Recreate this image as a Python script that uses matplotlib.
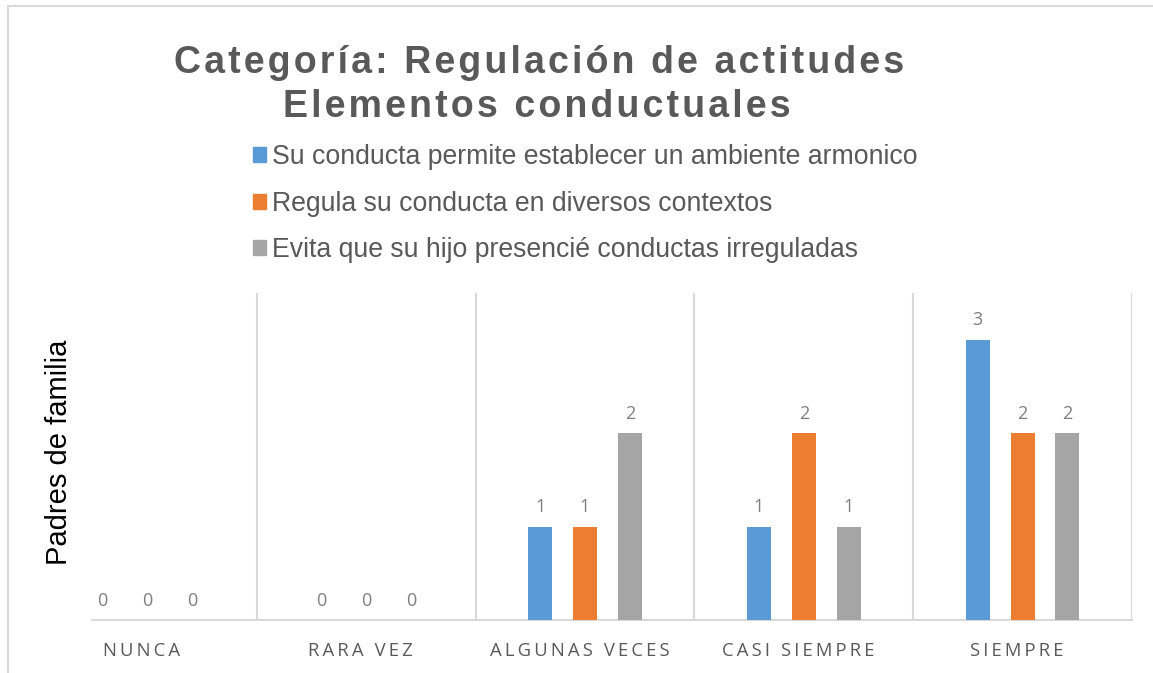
import numpy as np
import matplotlib
matplotlib.use("Agg")
import matplotlib.pyplot as plt
from matplotlib.lines import Line2D
from matplotlib.transforms import ScaledTranslation

categories = ["NUNCA", "RARA VEZ", "ALGUNAS VECES", "CASI SIEMPRE", "SIEMPRE"]
series_names = [
    "Su conducta permite establecer un ambiente armonico",
    "Regula su conducta en diversos contextos",
    "Evita que su hijo presencié conductas irreguladas",
]
ambiente = [0, 0, 1, 1, 3]
contextos = [0, 0, 1, 2, 2]
evita = [0, 0, 2, 1, 2]
colors = ["#5B9BD5", "#ED7D31", "#A5A5A5"]


def spaced(s, sep="\u2009"):
    return sep.join(s)


def main():
    fig = plt.figure(figsize=(11.53, 6.73), dpi=100)
    ax = fig.add_axes([38 / 1153, 1 - 620 / 673, (1132 - 38) / 1153, (620 - 293) / 673])

    x = np.arange(len(categories))
    width = 0.11
    offset = 0.205
    series = [ambiente, contextos, evita]
    for i, vals in enumerate(series):
        ax.bar(x + (i - 1) * offset, vals, width, color=colors[i], label=series_names[i], zorder=3)
        for xi, v in zip(x + (i - 1) * offset, vals):
            ax.annotate(str(v), (xi, v), xytext=(0, 14), textcoords="offset points",
                        ha="center", va="center", fontsize=13, color="#7f7f7f",
                        family="Open Sans")

    ax.set_xlim(-0.5, 4.5)
    ax.set_ylim(0, 3.5)
    for gx in np.arange(0.5, 5, 1):
        ax.axvline(gx, color="#d9d9d9", lw=1.5, zorder=1)

    for s in ["top", "right", "left"]:
        ax.spines[s].set_visible(False)
    ax.spines["bottom"].set_color("#d9d9d9")
    ax.spines["bottom"].set_linewidth(1.5)
    ax.spines["bottom"].set_bounds(-0.253, 4.5)

    ax.set_yticks([])
    ax.set_xticks(x)
    ax.set_xticklabels([spaced(c) for c in categories], fontsize=13.3, color="#595959",
                       family="Open Sans")
    ax.tick_params(axis="x", length=0, pad=16)
    shift = ScaledTranslation(-0.055, 0, fig.dpi_scale_trans)
    for lbl in ax.get_xticklabels():
        lbl.set_transform(lbl.get_transform() + shift)

    ax.set_ylabel("Padres de familia", fontsize=21, family="Liberation Sans", color="black")
    ax.yaxis.set_label_coords((73 - 38) / 1094, (620 - 452) / 327)

    # title (two lines, letter spaced)
    tfont = ["Liberation Sans", "DejaVu Sans"]
    fig.text(539 / 1153, 1 - 63 / 673, spaced("Categoría: Regulación de actitudes", "\u200a"),
             ha="center", va="center", fontsize=27, fontweight="bold", color="#595959",
             family=tfont)
    fig.text(537 / 1153, 1 - 107 / 673, spaced("Elementos conductuales", "\u200a"),
             ha="center", va="center", fontsize=27, fontweight="bold", color="#595959",
             family=tfont)

    handles = [plt.Rectangle((0, 0), 1, 1, color=c) for c in colors]
    fig.legend(handles, series_names, loc="upper left",
               bbox_to_anchor=(253 / 1153, 1 - 144 / 673), frameon=False,
               prop={"family": "Liberation Sans", "size": 19.2}, labelcolor="#595959",
               handlelength=0.5, handleheight=0.5, handletextpad=0.2,
               labelspacing=0.775, borderaxespad=0, borderpad=0)

    # chart border (top and left edges visible)
    fig.add_artist(Line2D([8 / 1153, 1], [1 - 6 / 673, 1 - 6 / 673], color="#d9d9d9", lw=1.5))
    fig.add_artist(Line2D([8 / 1153, 8 / 1153], [0, 1 - 6 / 673], color="#d9d9d9", lw=1.5))

    fig.savefig("out.png", dpi=100)


if __name__ == "__main__":
    main()
